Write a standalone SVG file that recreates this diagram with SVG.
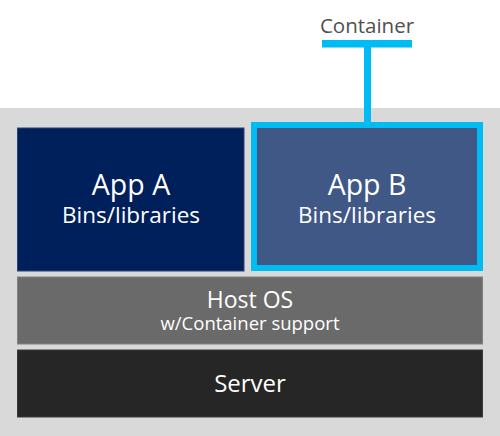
<svg xmlns="http://www.w3.org/2000/svg" width="500" height="436" viewBox="0 0 500 436">
<style>
  text { font-family: "Open Sans", "Noto Sans", "DejaVu Sans", sans-serif; text-anchor: middle; fill: #ffffff; }
  .title { font-size: 28.5px; }
  .sub { font-size: 22.5px; }
  .label { fill: #505050; font-size: 20.5px; }
</style>
<rect x="0" y="0" width="500" height="436" fill="#ffffff"/>
<rect id="backdrop" x="0" y="108" width="500" height="328" fill="#d9d9d9"/>
<g id="app-a">
  <rect x="17.5" y="128" width="226.5" height="143" fill="#00205b" stroke="#2a4478" stroke-width="1"/>
  <text class="title" x="131" y="195">App A</text>
  <text class="sub" x="131" y="223">Bins/libraries</text>
</g>
<g id="app-b">
  <rect x="254" y="125" width="226" height="143" fill="#3f5886" stroke="#00bcf2" stroke-width="6"/>
  <text class="title" x="367" y="195">App B</text>
  <text class="sub" x="367" y="223">Bins/libraries</text>
</g>
<g id="host-os">
  <rect x="17.5" y="277" width="465" height="67" fill="#6a6a6a" stroke="#808080" stroke-width="1"/>
  <text x="250" y="308" style="font-size:23px">Host OS</text>
  <text x="250" y="330" style="font-size:18.5px">w/Container support</text>
</g>
<g id="server">
  <rect x="17.5" y="350" width="465" height="67" fill="#262626" stroke="#3a3a3a" stroke-width="1"/>
  <text x="250" y="392" style="font-size:24px">Server</text>
</g>
<g id="container-label">
  <text class="label" x="367" y="33">Container</text>
</g>
<g id="connectors">
  <rect x="322" y="40" width="90" height="7.5" fill="#00bcf2"/>
  <rect x="364" y="46" width="7" height="78" fill="#00bcf2"/>
</g>
</svg>
